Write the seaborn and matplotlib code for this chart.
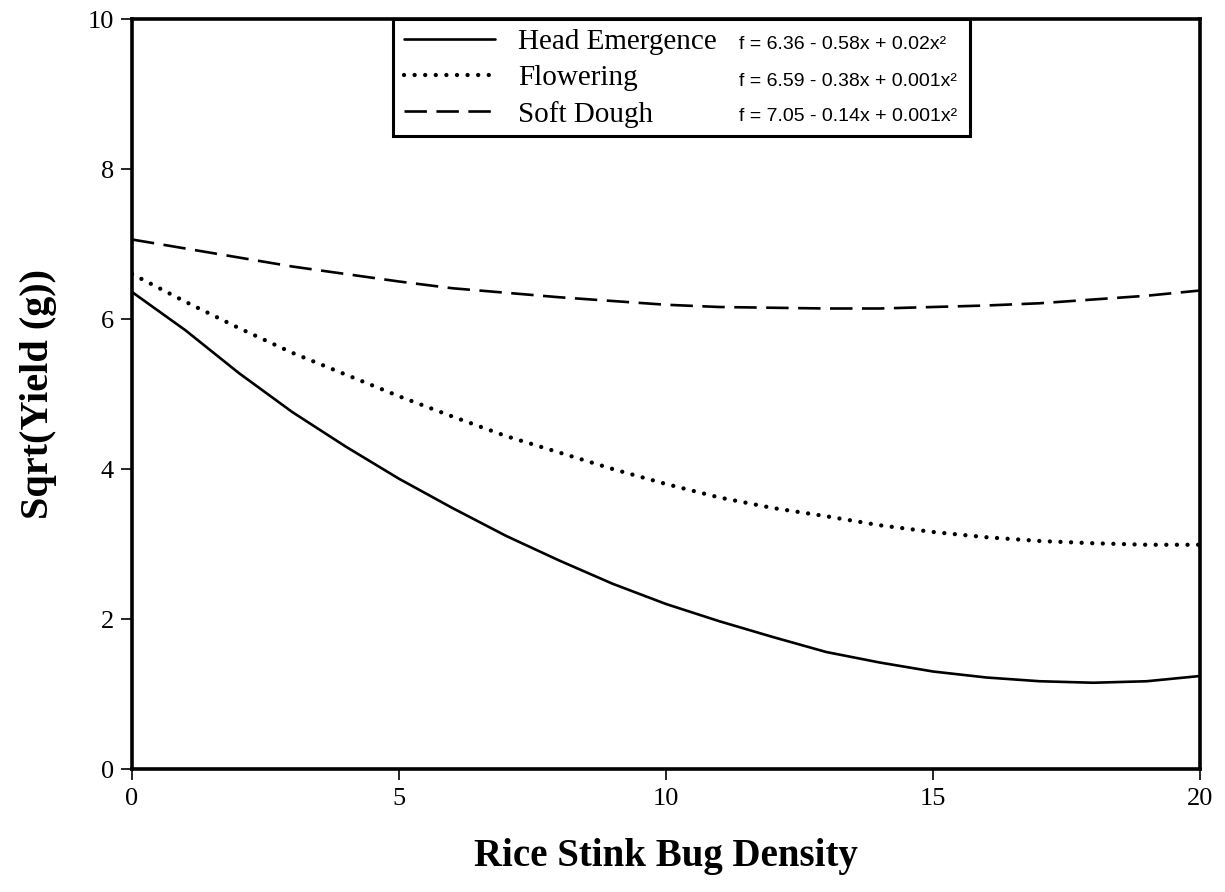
import numpy as np
import pandas as pd
import matplotlib
matplotlib.use("Agg")
import matplotlib.pyplot as plt
import seaborn as sns
from matplotlib.patches import Rectangle

# ---- data ----
density = list(range(21))
head_emergence = [6.36, 5.85, 5.28, 4.76, 4.30, 3.87, 3.48, 3.11, 2.78, 2.47, 2.20,
                  1.97, 1.76, 1.56, 1.42, 1.30, 1.22, 1.17, 1.15, 1.17, 1.24]
flowering = [6.60, 6.23, 5.88, 5.55, 5.26, 4.97, 4.70, 4.44, 4.22, 4.00, 3.80,
             3.62, 3.48, 3.37, 3.25, 3.16, 3.09, 3.04, 3.01, 2.99, 2.99]
soft_dough = [7.06, 6.94, 6.82, 6.70, 6.60, 6.50, 6.41, 6.35, 6.29, 6.24, 6.19,
              6.16, 6.15, 6.14, 6.14, 6.16, 6.18, 6.21, 6.26, 6.31, 6.38]
series_names = ["Head Emergence", "Flowering", "Soft Dough"]
equations = ["f = 6.36 - 0.58x + 0.02x\u00b2",
             "f = 6.59 - 0.38x + 0.001x\u00b2",
             "f = 7.05 - 0.14x + 0.001x\u00b2"]
x_ticks = [0, 5, 10, 15, 20]
y_ticks = [0, 2, 4, 6, 8, 10]

sns.set_style("ticks")
plt.rcParams["font.family"] = ["Liberation Serif", "DejaVu Serif"]
plt.rcParams["text.color"] = "black"
plt.rcParams["axes.labelcolor"] = "black"
plt.rcParams["xtick.color"] = "black"
plt.rcParams["ytick.color"] = "black"

fig = plt.figure(figsize=(12.25, 8.92), dpi=100)
ax = fig.add_axes([132 / 1225, 1 - 769 / 892, 1068 / 1225, 750 / 892])

styles = {
    "Head Emergence": dict(linestyle="-", linewidth=1.9),
    "Flowering": dict(linestyle=(0, (0.01, 2.45)), linewidth=3.1, dash_capstyle="round"),
    "Soft Dough": dict(linestyle=(0, (8.5, 3.6)), linewidth=1.9, dash_capstyle="butt"),
}
for name, vals in zip(series_names, [head_emergence, flowering, soft_dough]):
    df = pd.DataFrame({"x": density, "y": vals})
    sns.lineplot(data=df, x="x", y="y", ax=ax, color="black", label=name,
                 **styles[name])

ax.set_xlim(0, 20)
ax.set_ylim(0, 10)
ax.set_xticks(x_ticks)
ax.set_yticks(y_ticks)
ax.set_xticklabels([str(t) for t in x_ticks])
ax.set_yticklabels([str(t) for t in y_ticks])
ax.tick_params(axis="both", direction="out", length=8, width=1.2, labelsize=19,
               colors="black")
ax.tick_params(axis="x", pad=6)
ax.tick_params(axis="y", pad=5)
for sp in ax.spines.values():
    sp.set_visible(True)
    sp.set_linewidth(2.6)
    sp.set_color("black")

ax.set_xlabel("Rice Stink Bug Density", fontsize=28, fontweight="bold", labelpad=20)
ax.set_ylabel("Sqrt(Yield (g))", fontsize=29, fontweight="bold", labelpad=22)

# legend
leg = ax.legend(loc="upper left", bbox_to_anchor=(0.248, 0.997), frameon=False,
                fontsize=21, handlelength=3.1, handletextpad=0.8,
                labelspacing=0.33, borderpad=0.25, borderaxespad=0)
for h in leg.get_lines():
    h.set_color("black")
ax.add_patch(Rectangle((0.2444, 0.844), 0.7846 - 0.2444, 1.0 - 0.844,
                       transform=ax.transAxes, fill=False, edgecolor="black",
                       linewidth=2.2, zorder=5, clip_on=False))
eq_y = [0.966, 0.917, 0.870]
for eq, yy in zip(equations, eq_y):
    ax.text(0.568, yy, eq, transform=ax.transAxes, fontsize=14,
            family=["Liberation Sans", "DejaVu Sans"], va="center", ha="left")

fig.savefig("out.png", dpi=100)
